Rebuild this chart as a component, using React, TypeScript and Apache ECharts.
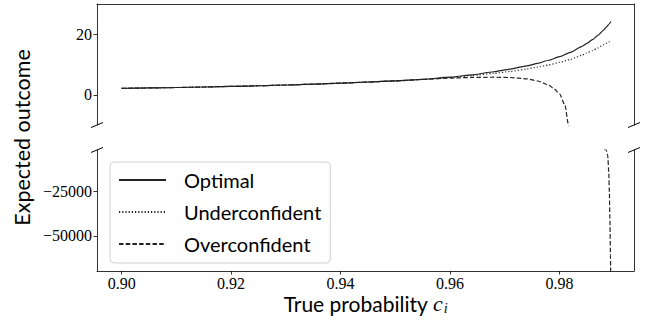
import React, { useEffect, useRef } from 'react';
import * as echarts from 'echarts';

// ---- data ----
const probX = [0.900, 0.905, 0.910, 0.915, 0.920, 0.925, 0.930, 0.935, 0.940, 0.945, 0.950, 0.955, 0.960, 0.964, 0.968, 0.971, 0.974, 0.976, 0.978, 0.980, 0.982, 0.984, 0.985, 0.986, 0.987, 0.988, 0.9885, 0.9890, 0.9894];
const optimalY = [2.10, 2.24, 2.39, 2.56, 2.76, 2.97, 3.22, 3.51, 3.85, 4.22, 4.60, 5.10, 5.80, 6.60, 7.60, 8.50, 9.56, 10.4, 11.4, 12.6, 14.0, 15.9, 17.0, 18.2, 19.6, 21.3, 22.3, 23.3, 24.2];
const underY = [2.10, 2.24, 2.39, 2.56, 2.76, 2.97, 3.22, 3.51, 3.85, 4.22, 4.59, 5.08, 5.70, 6.35, 7.05, 7.70, 8.50, 9.15, 9.85, 10.7, 11.7, 13.0, 13.8, 14.6, 15.5, 16.5, 17.0, 17.5, 18.0];
const overX = [0.900, 0.905, 0.910, 0.915, 0.920, 0.925, 0.930, 0.935, 0.940, 0.945, 0.950, 0.955, 0.960, 0.964, 0.968, 0.971, 0.974, 0.976, 0.978, 0.979, 0.980, 0.981, 0.9816, 0.982, 0.983, 0.984, 0.985, 0.986, 0.987, 0.988, 0.9885, 0.9888, 0.9890, 0.9891, 0.9892, 0.9893, 0.9894];
const overY = [2.10, 2.24, 2.39, 2.56, 2.76, 2.97, 3.22, 3.50, 3.83, 4.20, 4.58, 5.05, 5.50, 5.72, 5.80, 5.70, 5.25, 4.55, 3.20, 2.00, 0.30, -3.5, -9.7, -13, -25, -50, -120, -350, -1000, -1200, -1900, -5000, -15000, -26000, -41000, -61000, -95000];
const seriesNames = ['Optimal', 'Underconfident', 'Overconfident'];
const xTicks = [0.90, 0.92, 0.94, 0.96, 0.98];
const topYTicks = [0, 20];
const bottomYTicks = [-50000, -25000];

// ---- layout ----
const W = 649;
const H = 320;
const PL = 97;
const PR = 634;
const TOP1 = 4;
const PH = 121;
const TOP2 = 150;
const X_MIN = 0.8955;
const X_MAX = 0.9936;

const serif = "'Liberation Serif', 'DejaVu Serif', serif";
const sans = "Lato, 'Open Sans', 'DejaVu Sans', sans-serif";
const ink = '#000';
const lineColor = '#222';

const fmtNum = (v: number) => String(v).replace('-', '\u2212');

function breakMarks(): any[] {
  const out: any[] = [];
  const ys = [TOP1 + PH, TOP2];
  const xs = [PL, PR];
  for (const x of xs) {
    for (const y of ys) {
      out.push({
        type: 'line',
        shape: { x1: x - 6, y1: y + 2.5, x2: x + 6, y2: y - 2.5 },
        style: { stroke: ink, lineWidth: 1 },
        z: 10,
      });
    }
  }
  return out;
}

export default function App() {
  const ref = useRef<HTMLDivElement>(null);
  useEffect(() => {
    if (!ref.current) return;
    const chart = echarts.init(ref.current, undefined, { renderer: 'svg' });
    const xBase = {
      type: 'value',
      min: X_MIN,
      max: X_MAX,
      splitLine: { show: false },
    };
    const lineBase = {
      type: 'line',
      symbol: 'none',
      showSymbol: false,
      smooth: 0.2,
      smoothMonotone: 'x',
      itemStyle: { color: lineColor },
    };
    const option: any = {
      animation: false,
      backgroundColor: '#fff',
      grid: [
        { left: PL, top: TOP1, width: PR - PL, height: PH },
        { left: PL, top: TOP2, width: PR - PL, height: PH },
      ],
      xAxis: [
        {
          ...xBase,
          gridIndex: 0,
          position: 'top',
          axisLine: { show: true, onZero: false, lineStyle: { color: ink, width: 0.8 } },
          axisTick: { show: false },
          axisLabel: { show: false },
        },
        {
          ...xBase,
          gridIndex: 1,
          position: 'bottom',
          axisLine: { show: true, onZero: false, lineStyle: { color: ink, width: 0.8 } },
          axisTick: { show: true, length: 3.5, customValues: xTicks, lineStyle: { color: ink, width: 0.8 } },
          axisLabel: {
            show: true,
            customValues: xTicks,
            formatter: (v: number) => v.toFixed(2),
            fontFamily: serif,
            fontSize: 16,
            lineHeight: 16,
            color: ink,
            margin: 4,
          },
        },
      ],
      yAxis: [
        {
          type: 'value',
          gridIndex: 0,
          min: -10,
          max: 30,
          position: 'left',
          splitLine: { show: false },
          axisLine: { show: true, onZero: false, lineStyle: { color: ink, width: 0.8 } },
          axisTick: { show: true, length: 3.5, customValues: topYTicks, lineStyle: { color: ink, width: 0.8 } },
          axisLabel: { show: true, customValues: topYTicks, formatter: fmtNum, fontFamily: serif, fontSize: 16, color: ink, margin: 5 },
        },
        {
          type: 'value',
          gridIndex: 0,
          min: -10,
          max: 30,
          position: 'right',
          splitLine: { show: false },
          axisLine: { show: true, onZero: false, lineStyle: { color: ink, width: 0.8 } },
          axisTick: { show: false },
          axisLabel: { show: false },
        },
        {
          type: 'value',
          gridIndex: 1,
          min: -69700,
          max: -2000,
          position: 'left',
          splitLine: { show: false },
          axisLine: { show: true, onZero: false, lineStyle: { color: ink, width: 0.8 } },
          axisTick: { show: true, length: 3.5, customValues: bottomYTicks, lineStyle: { color: ink, width: 0.8 } },
          axisLabel: { show: true, customValues: bottomYTicks, formatter: fmtNum, fontFamily: serif, fontSize: 16, color: ink, margin: 5 },
        },
        {
          type: 'value',
          gridIndex: 1,
          min: -69700,
          max: -2000,
          position: 'right',
          splitLine: { show: false },
          axisLine: { show: true, onZero: false, lineStyle: { color: ink, width: 0.8 } },
          axisTick: { show: false },
          axisLabel: { show: false },
        },
      ],
      legend: {
        data: seriesNames,
        orient: 'vertical',
        left: 110,
        top: 162,
        itemWidth: 47,
        itemHeight: 14,
        itemGap: 10,
        padding: [7, 9, 8, 8],
        backgroundColor: 'rgba(255,255,255,0.8)',
        borderColor: '#d0d0d0',
        borderWidth: 1,
        borderRadius: 4,
        itemStyle: { opacity: 0 },
        textStyle: { fontFamily: sans, fontSize: 20, color: ink, lineHeight: 22, padding: [0, 0, 0, 13] },
      },
      series: [
        {
          ...lineBase,
          name: seriesNames[0], xAxisIndex: 0, yAxisIndex: 0,
          data: probX.map((x, i) => [x, optimalY[i]]),
          lineStyle: { color: lineColor, width: 1.2, type: 'solid' },
        },
        {
          ...lineBase,
          name: seriesNames[1], xAxisIndex: 0, yAxisIndex: 0,
          data: probX.map((x, i) => [x, underY[i]]),
          lineStyle: { color: lineColor, width: 1.2, type: [1.2, 2] },
        },
        {
          ...lineBase,
          name: seriesNames[2], xAxisIndex: 0, yAxisIndex: 0,
          data: overX.map((x, i) => [x, overY[i]]),
          lineStyle: { color: lineColor, width: 1.2, type: [4.5, 2.2] },
        },
        {
          ...lineBase,
          name: seriesNames[2], xAxisIndex: 1, yAxisIndex: 2,
          data: overX.map((x, i) => [x, overY[i]]),
          lineStyle: { color: lineColor, width: 1.2, type: [4.5, 2.2] },
        },
      ],
      graphic: [
        ...breakMarks(),
        {
          type: 'text',
          x: 22,
          y: (TOP1 + TOP2 + PH) / 2,
          rotation: Math.PI / 2,
          style: {
            text: 'Expected outcome',
            fontFamily: sans,
            fontSize: 21.5,
            fill: ink,
            align: 'center',
            verticalAlign: 'middle',
          },
        },
        {
          type: 'text',
          x: (PL + PR) / 2,
          y: 303,
          style: {
            text: 'True probability {m|c}{s|i}',
            fontFamily: sans,
            fontSize: 21,
            lineHeight: 20,
            fill: ink,
            align: 'center',
            verticalAlign: 'middle',
            rich: {
              m: { fontFamily: serif, fontStyle: 'italic', fontSize: 22, lineHeight: 20, fill: ink },
              s: { fontFamily: serif, fontStyle: 'italic', fontSize: 14, lineHeight: 12, fill: ink, padding: [11, 0, 0, 1] },
            },
          },
        },
      ],
    };
    chart.setOption(option);
    return () => chart.dispose();
  }, []);
  return <div ref={ref} style={{ position: 'fixed', left: 0, top: 0, width: W, height: H }} />;
}
